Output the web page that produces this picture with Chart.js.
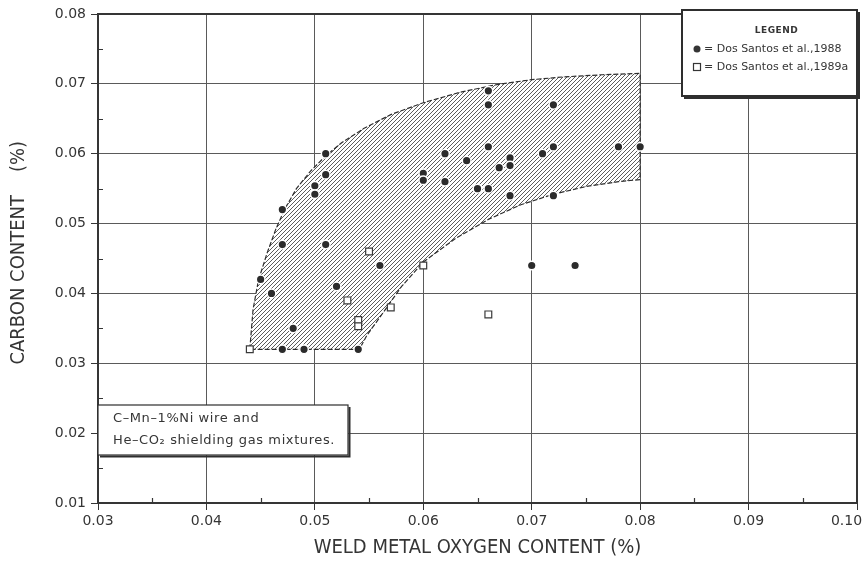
<!DOCTYPE html>
<html>
<head>
<meta charset="utf-8">
<title>Carbon vs oxygen content</title>
<script src="https://cdn.jsdelivr.net/npm/chart.js@4.4.0/dist/chart.umd.min.js"></script>
<style>
  html, body { margin: 0; padding: 0; background: #fff; }
  canvas { display: block; }
</style>
</head>
<body>
<canvas id="weldChart" width="864" height="561"></canvas>
<script>
// Axis ticks
const xTickLabels = ['0.03', '0.04', '0.05', '0.06', '0.07', '0.08', '0.09', '0.10'];
const yTickLabels = ['0.01', '0.02', '0.03', '0.04', '0.05', '0.06', '0.07', '0.08'];
const xMinorTicks = [0.035, 0.045, 0.055, 0.065, 0.075, 0.085, 0.095];
const yMinorTicks = [0.015, 0.025, 0.035, 0.045, 0.055, 0.065, 0.075];

// Dos Santos et al., 1988 (filled circles)
const oxygen1988 = [0.045, 0.046, 0.047, 0.047, 0.047, 0.048, 0.049, 0.050, 0.050, 0.051, 0.051, 0.051,
                    0.052, 0.054, 0.056, 0.060, 0.060, 0.062, 0.062, 0.064, 0.065, 0.066, 0.066, 0.066,
                    0.066, 0.067, 0.068, 0.068, 0.068, 0.070, 0.071, 0.072, 0.072, 0.072, 0.074, 0.078, 0.080];
const carbon1988 = [0.042, 0.040, 0.052, 0.047, 0.032, 0.035, 0.032, 0.0554, 0.0542, 0.060, 0.057, 0.047,
                    0.041, 0.032, 0.044, 0.0572, 0.0562, 0.060, 0.056, 0.059, 0.055, 0.069, 0.067, 0.061,
                    0.055, 0.058, 0.0594, 0.0583, 0.054, 0.044, 0.060, 0.067, 0.061, 0.054, 0.044, 0.061, 0.061];

// Dos Santos et al., 1989a (open squares)
const oxygen1989 = [0.044, 0.053, 0.054, 0.054, 0.055, 0.057, 0.060, 0.066];
const carbon1989 = [0.032, 0.039, 0.0362, 0.0353, 0.046, 0.038, 0.044, 0.037];

// Hatched band outline: upper curve, right edge, lower curve back to start
const bandOxygen = [0.0440, 0.0443, 0.0448, 0.0456, 0.0464, 0.0472, 0.0483, 0.0496, 0.0510, 0.0525,
                    0.0545, 0.0570, 0.0600, 0.0634, 0.0668, 0.0700, 0.0730, 0.0765, 0.0800,
                    0.0800, 0.0780, 0.0750, 0.0720, 0.0690, 0.0660, 0.0630, 0.0600, 0.0580,
                    0.0560, 0.0548, 0.0541, 0.0440];
const bandCarbon = [0.0320, 0.0377, 0.0419, 0.0458, 0.0492, 0.0520, 0.0550, 0.0575, 0.0597, 0.0616,
                    0.0636, 0.0656, 0.0673, 0.0688, 0.0699, 0.0706, 0.0710, 0.0713, 0.0715,
                    0.0563, 0.0560, 0.0553, 0.0542, 0.0527, 0.0506, 0.0479, 0.0445, 0.0410,
                    0.0366, 0.0340, 0.0320, 0.0320];

const toPoints = (xs, ys) => xs.map((x, i) => ({ x: x, y: ys[i] }));

const inkColor = '#353535';
const gridColor = '#5a5a5a';
const tickFont = { family: "'DejaVu Sans', sans-serif", size: 14 };
const titleFamily = "'Liberation Sans Narrow', 'DejaVu Sans Condensed', 'Liberation Sans', sans-serif";

// diagonal hatch tile
function makeHatch() {
    const n = 4;
    const tile = document.createElement('canvas');
    tile.width = n; tile.height = n;
    const g = tile.getContext('2d');
    g.fillStyle = '#ffffff';
    g.fillRect(0, 0, n, n);
    g.strokeStyle = '#5c5c5c';
    g.lineWidth = 1;
    g.beginPath();
    g.moveTo(0, n); g.lineTo(n, 0);
    g.moveTo(-1, 1); g.lineTo(1, -1);
    g.moveTo(n - 1, n + 1); g.lineTo(n + 1, n - 1);
    g.stroke();
    return g.createPattern(tile, 'repeat');
}

// minor ticks, frame, legend box and note box
const decorations = {
    id: 'decorations',
    afterDraw(chart) {
        const { ctx, chartArea: a, scales: { x, y } } = chart;
        ctx.save();
        ctx.strokeStyle = inkColor;
        ctx.lineWidth = 1.2;
        ctx.beginPath();
        xMinorTicks.forEach(v => {
            const px = Math.round(x.getPixelForValue(v)) + 0.5;
            ctx.moveTo(px, a.bottom); ctx.lineTo(px, a.bottom - 5);
        });
        yMinorTicks.forEach(v => {
            const py = Math.round(y.getPixelForValue(v)) + 0.5;
            ctx.moveTo(a.left, py); ctx.lineTo(a.left + 5, py);
        });
        ctx.stroke();

        // plot frame
        ctx.lineWidth = 2;
        ctx.strokeRect(a.left, a.top, a.right - a.left, a.bottom - a.top);

        // legend box
        const lx = 682, ly = 10, lw = 175, lh = 86;
        ctx.fillStyle = '#ffffff';
        ctx.fillRect(lx, ly, lw, lh);
        ctx.strokeStyle = '#2e2e2e';
        ctx.lineWidth = 2;
        ctx.strokeRect(lx, ly, lw, lh);
        ctx.beginPath();
        ctx.moveTo(lx + 2, ly + lh + 2); ctx.lineTo(lx + lw + 2, ly + lh + 2); ctx.lineTo(lx + lw + 2, ly + 2);
        ctx.stroke();

        ctx.fillStyle = inkColor;
        ctx.textBaseline = 'middle';
        ctx.textAlign = 'center';
        ctx.letterSpacing = '0.5px';
        ctx.font = "bold 9px 'DejaVu Sans', sans-serif";
        ctx.fillText('LEGEND', lx + lw / 2 + 7, ly + 21);

        ctx.textAlign = 'left';
        ctx.letterSpacing = '0px';
        ctx.font = "11px 'DejaVu Sans', sans-serif";
        const sets = chart.data.datasets.filter(d => d.legendRow !== undefined);
        sets.forEach(d => {
            const ry = ly + 39 + d.legendRow * 18;
            const mx = lx + 15;
            if (d.pointStyle === 'rect') {
                ctx.fillStyle = '#ffffff';
                ctx.strokeStyle = inkColor;
                ctx.lineWidth = 1.2;
                ctx.fillRect(mx - 3.5, ry - 3.5, 7, 7);
                ctx.strokeRect(mx - 3.5, ry - 3.5, 7, 7);
            } else {
                ctx.fillStyle = inkColor;
                ctx.beginPath();
                ctx.arc(mx, ry, 3.5, 0, Math.PI * 2);
                ctx.fill();
            }
            ctx.fillStyle = inkColor;
            ctx.fillText('= ' + d.label, mx + 7, ry);
        });

        // note box
        const nx = 98, ny = 405, nw = 250, nh = 50;
        ctx.fillStyle = '#ffffff';
        ctx.fillRect(nx, ny, nw, nh);
        ctx.strokeStyle = '#2e2e2e';
        ctx.lineWidth = 1.2;
        ctx.strokeRect(nx, ny, nw, nh);
        ctx.lineWidth = 2;
        ctx.beginPath();
        ctx.moveTo(nx + 2, ny + nh + 1.5); ctx.lineTo(nx + nw + 1.5, ny + nh + 1.5); ctx.lineTo(nx + nw + 1.5, ny + 2);
        ctx.stroke();
        ctx.fillStyle = inkColor;
        ctx.letterSpacing = '0.6px';
        ctx.font = "13px 'DejaVu Sans', sans-serif";
        ctx.fillText('C–Mn–1%Ni wire and', nx + 15, ny + 14);
        ctx.fillText('He–CO₂ shielding gas mixtures.', nx + 15, ny + 36);
        ctx.restore();
    }
};

const ctx = document.getElementById('weldChart');
new Chart(ctx.getContext('2d'), {
    type: 'scatter',
    data: {
        datasets: [{
            label: 'Dos Santos et al.,1988',
            legendRow: 0,
            data: toPoints(oxygen1988, carbon1988),
            pointStyle: 'circle',
            pointRadius: 4.3,
            backgroundColor: '#2b2b2b',
            borderColor: '#ffffff',
            borderWidth: 1.4,
            order: 1
        }, {
            label: 'Dos Santos et al.,1989a',
            legendRow: 1,
            data: toPoints(oxygen1989, carbon1989),
            pointStyle: 'rect',
            pointRadius: 4.8,
            backgroundColor: '#ffffff',
            borderColor: '#3a3a3a',
            borderWidth: 1.2,
            order: 2
        }, {
            label: 'band',
            data: toPoints(bandOxygen, bandCarbon),
            showLine: true,
            fill: 'shape',
            backgroundColor: makeHatch(),
            borderColor: '#2e2e2e',
            borderWidth: 1.2,
            borderDash: [5, 2],
            pointRadius: 0,
            tension: 0,
            order: 3
        }]
    },
    options: {
        responsive: false,
        animation: false,
        layout: { padding: { top: 14, right: 7, bottom: 0, left: 0 } },
        plugins: { legend: { display: false }, tooltip: { enabled: false } },
        scales: {
            x: {
                type: 'linear',
                min: 0.03,
                max: 0.10,
                afterBuildTicks: s => { s.ticks = xTickLabels.map(t => ({ value: parseFloat(t) })); },
                afterFit: s => { s.height = 58; s.paddingLeft = 0; s.paddingRight = 0; },
                // last label sits inside the canvas edge
                ticks: {
                    callback: v => v >= 0.0999 ? v.toFixed(2) + '\u2002\u2002\u2002' : v.toFixed(2),
                    font: tickFont, color: inkColor, padding: 3, maxRotation: 0
                },
                grid: { color: gridColor, lineWidth: 1, tickLength: 7, tickColor: inkColor },
                border: { color: inkColor, width: 2 },
                title: {
                    display: true,
                    text: 'WELD METAL OXYGEN CONTENT (%)',
                    color: inkColor,
                    font: { family: titleFamily, size: 20 },
                    padding: { top: 0, bottom: 1 }
                }
            },
            y: {
                type: 'linear',
                min: 0.01,
                max: 0.08,
                afterBuildTicks: s => { s.ticks = yTickLabels.map(t => ({ value: parseFloat(t) })); },
                afterFit: s => { s.width = 98; s.paddingTop = 0; s.paddingBottom = 0; },
                ticks: { callback: v => v.toFixed(2), font: tickFont, color: inkColor, padding: 5 },
                grid: { color: gridColor, lineWidth: 1, tickLength: 7, tickColor: inkColor },
                border: { color: inkColor, width: 2 },
                title: {
                    display: true,
                    text: '  CARBON CONTENT    (%)',
                    color: inkColor,
                    font: { family: titleFamily, size: 20 },
                    padding: { top: 7, bottom: 0 }
                }
            }
        }
    },
    plugins: [decorations]
});
</script>
</body>
</html>
